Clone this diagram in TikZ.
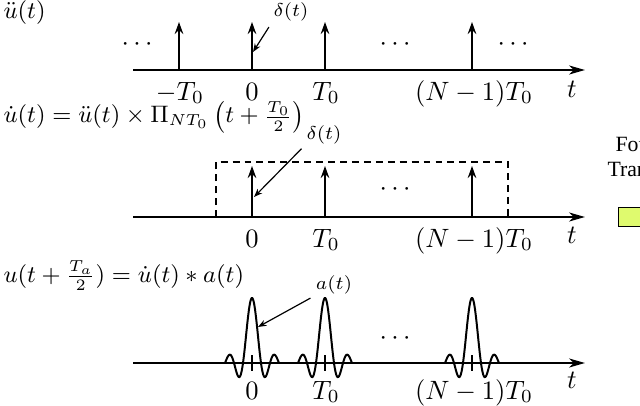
\documentclass[tikz,border=0pt]{standalone}
\usepackage{fontspec}
\newfontfamily\boxfont{Liberation Serif}
\usetikzlibrary{arrows.meta}
\definecolor{BoxGreen}{RGB}{223,250,110}
\tikzset{
    axis/.style={line width=0.75pt, -{Stealth[length=6pt,width=3.4pt,inset=1.8pt]}},
    impulse/.style={line width=0.75pt, -{Stealth[length=4.5pt,width=3.2pt]}},
    pointer/.style={line width=0.45pt, -{Stealth[length=3.2pt,width=2.4pt]}, shorten <=1pt},
    window/.style={line width=0.6pt, dash pattern=on 2.6pt off 1.9pt},
    pulse/.style={line width=0.75pt},
    centermark/.style={line width=0.45pt},
    lbl/.style={anchor=base, inner sep=0pt},
    small/.style={anchor=base, inner sep=1pt, font=\scriptsize},
    formula/.style={anchor=base west, inner sep=0pt, font=\fontsize{8.7}{11}\selectfont},
    dots/.style={anchor=base, inner sep=0pt},
    cut/.style={anchor=base west, inner sep=0pt, font=\boxfont\fontsize{8.2}{10}\selectfont}
}

\begin{document}
\begin{tikzpicture}[x=0.377pt, y=-0.377pt]
        \clip (0,0) rectangle (640,406);

        % impulse train
        \node[formula] (f1) at (3,19) {$\ddot{u}(t)$};
        \coordinate (o1) at (133,70);
        \coordinate (e1) at (585,70);
        \draw[axis] (o1) -- (e1);
        \foreach \x/\n in {179/a, 252/b, 325/c, 472/d} {
            \coordinate (p1\n) at (\x,70);
            \coordinate (q1\n) at (\x,22);
            \draw[impulse] (p1\n) -- (q1\n);
        }
        \node[lbl] (m1) at (180,100) {$-T_0$};
        \node[lbl] (z1) at (252,100) {$0$};
        \node[lbl] (t1) at (326,100) {$T_0$};
        \node[lbl] (n1) at (474,100) {$(N-1)T_0$};
        \node[lbl] (x1) at (572,97) {$t$};
        \node[dots] (d1a) at (137,50) {$\cdots$};
        \node[dots] (d1b) at (395,50) {$\cdots$};
        \node[dots] (d1c) at (513,50) {$\cdots$};
        \node[small] (dlt1) at (291,17) {$\delta(t)$};
        \coordinate (hit1) at (253,52);
        \draw[pointer] (dlt1.south west) -- (hit1);

        % windowed train
        \node[formula] (f2) at (3,123) {$\dot{u}(t)=\ddot{u}(t)\times\Pi_{NT_0}\left(t+\frac{T_0}{2}\right)$};
        \draw[window] (216,217) -- (216,162) -- (508,162) -- (508,217);
        \coordinate (o2) at (133,217);
        \coordinate (e2) at (585,217);
        \draw[axis] (o2) -- (e2);
        \foreach \x/\n in {252/b, 325/c, 472/d} {
            \coordinate (p2\n) at (\x,217);
            \coordinate (q2\n) at (\x,166);
            \draw[impulse] (p2\n) -- (q2\n);
        }
        \node[lbl] (z2) at (252,247) {$0$};
        \node[lbl] (t2) at (326,247) {$T_0$};
        \node[lbl] (n2) at (474,247) {$(N-1)T_0$};
        \node[lbl] (x2) at (572,243) {$t$};
        \node[dots] (d2) at (395,195) {$\cdots$};
        \node[small] (dlt2) at (324,139) {$\delta(t)$};
        \coordinate (hit2) at (254,197);
        \draw[pointer] (dlt2.south west) -- (hit2);

        % pulse train
        \node[formula] (f3) at (3,282) {$u(t+\frac{T_a}{2})=\dot{u}(t)\ast a(t)$};
        \coordinate (o3) at (133,363);
        \coordinate (e3) at (585,363);
        \draw[axis] (o3) -- (e3);
        \foreach \c/\n in {252/b, 325/c, 472/d} {
            \draw[pulse] plot[smooth, variable=\s, domain=-27:27, samples=80]
                ({\c+\s}, {363-65*sin(20*\s)/(0.349066*\s)});
            \coordinate (k3\n) at (\c,355);
            \coordinate (l3\n) at (\c,371);
            \draw[centermark] (k3\n) -- (l3\n);
        }
        \node[lbl] (z3) at (252,399) {$0$};
        \node[lbl] (t3) at (326,399) {$T_0$};
        \node[lbl] (n3) at (474,399) {$(N-1)T_0$};
        \node[lbl] (x3) at (572,388) {$t$};
        \node[dots] (d3) at (395,344) {$\cdots$};
        \node[small] (alb) at (334,289) {$a(t)$};
        \coordinate (hit3) at (258,327);
        \draw[pointer] (alb.south west) -- (hit3);

        % cut-off part on the right
        \node[cut] (fou) at (615,151) {Fou};
        \node[cut] (tran) at (607,176) {Tran};
        \node[draw, fill=BoxGreen, line width=0.5pt, anchor=north west,
              minimum width=12pt, minimum height=7.2pt, inner sep=0pt] (ftbox) at (618,207) {};
\end{tikzpicture}
\end{document}
